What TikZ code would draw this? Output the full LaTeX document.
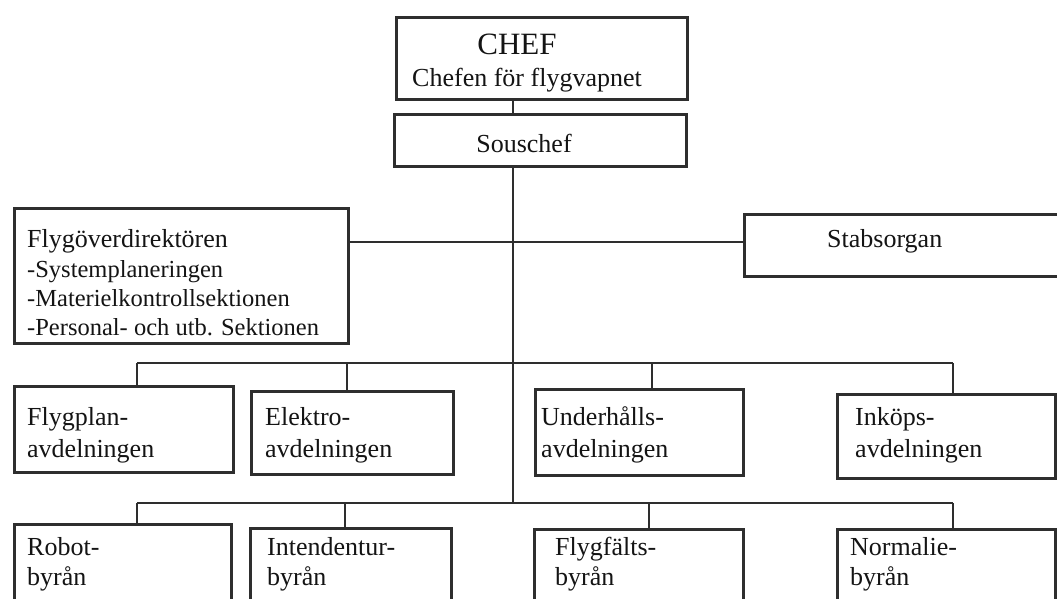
\documentclass[tikz,border=0pt]{standalone}
\usepackage{fontspec}
\setmainfont{Liberation Serif}
\definecolor{ink}{HTML}{2E2E2E}
\definecolor{txtc}{HTML}{141414}
\begin{document}
\begin{tikzpicture}[x=1pt,y=-1pt,
  box/.style={draw=ink, line width=3.2pt, rectangle, inner sep=0pt, anchor=north west},
  conn/.style={draw=ink, line width=2.8pt},
  txt/.style={inner sep=0pt, anchor=base west, text=txtc, font=\fontsize{26}{29}\selectfont},
  subtxt/.style={txt, font=\fontsize{24.5}{29}\selectfont}]
\useasboundingbox[fill=white] (0,0) rectangle (1057,599);
\begin{scope}
\clip (0,0) rectangle (1057,599);
% boxes
\node[box, minimum width=291pt, minimum height=82pt] (chef) at (395,16) {};
\node[box, minimum width=292pt, minimum height=52pt] (sous) at (393,113) {};
\node[box, minimum width=334pt, minimum height=135pt] (flyg) at (13,207) {};
\node[box, minimum width=330pt, minimum height=62pt] (stab) at (743,213) {};
\node[box, minimum width=219pt, minimum height=86pt] (flygplan) at (13,385) {};
\node[box, minimum width=202pt, minimum height=83pt] (elektro) at (250,390) {};
\node[box, minimum width=208pt, minimum height=86pt] (underh) at (534,388) {};
\node[box, minimum width=218pt, minimum height=84pt] (inkops) at (836,393) {};
\node[box, minimum width=217pt, minimum height=100pt] (robot) at (13,523) {};
\node[box, minimum width=201pt, minimum height=100pt] (intend) at (249,527) {};
\node[box, minimum width=209pt, minimum height=100pt] (flygf) at (533,528) {};
\node[box, minimum width=218pt, minimum height=100pt] (normalie) at (836,528) {};
% texts
\node[txt, anchor=base, font=\fontsize{31}{34}\selectfont] (tchef) at (517,55) {CHEF};
\node[txt, anchor=base, font=\fontsize{26}{30}\selectfont] (tchefen) at (527,87) {Chefen för flygvapnet};
\node[txt, anchor=base] (tsous) at (524,152) {Souschef};
\node[txt] (tflyg) at (27,247) {Flygöverdirektören};
\node[subtxt] (tflyg1) at (27,277) {-Systemplaneringen};
\node[subtxt] (tflyg2) at (27,306) {-Materielkontrollsektionen};
\node[subtxt] (tflyg3) at (27,335) {-Personal- och utb. Sektionen};
\node[txt] (tstab) at (827,247) {Stabsorgan};
\node[txt] (tfp1) at (27,425) {Flygplan-};
\node[txt] (tfp2) at (27,457) {avdelningen};
\node[txt] (tel1) at (265,425) {Elektro-};
\node[txt] (tel2) at (265,457) {avdelningen};
\node[txt] (tun1) at (541,425) {Underhålls-};
\node[txt] (tun2) at (541,457) {avdelningen};
\node[txt] (tin1) at (855,425) {Inköps-};
\node[txt] (tin2) at (855,457) {avdelningen};
\node[txt] (tro1) at (27,555) {Robot-};
\node[txt] (tro2) at (27,585) {byrån};
\node[txt] (tit1) at (267,555) {Intendentur-};
\node[txt] (tit2) at (267,585) {byrån};
\node[txt] (tff1) at (555,555) {Flygfälts-};
\node[txt] (tff2) at (555,585) {byrån};
\node[txt] (tno1) at (850,555) {Normalie-};
\node[txt] (tno2) at (850,585) {byrån};
% connector coordinates
\coordinate (mx) at (513,0);
\coordinate (b0) at (0,242);
\coordinate (d1a) at (137,363);
\coordinate (d1b) at (347,363);
\coordinate (d1c) at (652,363);
\coordinate (d1d) at (953,363);
\coordinate (d2a) at (137,503);
\coordinate (d2b) at (345,503);
\coordinate (d2c) at (649,503);
\coordinate (d2d) at (953,503);
% connectors
\draw[conn] (chef.south -| mx) -- (sous.north -| mx);
\draw[conn] (sous.south -| mx) -- (mx |- d2a);
\draw[conn] (flyg.east |- b0) -- (stab.west |- b0);
\draw[conn] (d1a) -- (d1d);
\draw[conn] (d1a) -- (d1a |- flygplan.north);
\draw[conn] (d1b) -- (d1b |- elektro.north);
\draw[conn] (d1c) -- (d1c |- underh.north);
\draw[conn] (d1d) -- (d1d |- inkops.north);
\draw[conn] (d2a) -- (d2d);
\draw[conn] (d2a) -- (d2a |- robot.north);
\draw[conn] (d2b) -- (d2b |- intend.north);
\draw[conn] (d2c) -- (d2c |- flygf.north);
\draw[conn] (d2d) -- (d2d |- normalie.north);
\end{scope}
\end{tikzpicture}
\end{document}
